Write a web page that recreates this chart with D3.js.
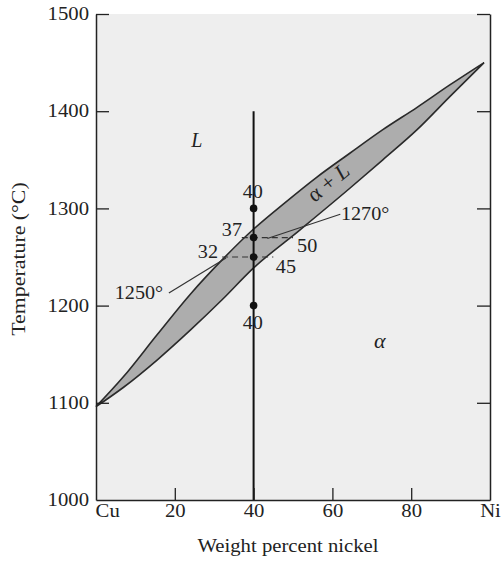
<!DOCTYPE html>
<html>
<head>
<meta charset="utf-8">
<script src="https://cdn.jsdelivr.net/npm/d3@7"></script>
<style>
  body { margin: 0; background: #fff; }
  text { font-family: "Liberation Serif", "Times New Roman", serif; fill: #222; }
</style>
</head>
<body>
<div id="chart"></div>
<script>
// wt% Ni vs temperature
var liquidusNi = [0, 7, 15.5, 24, 32, 39.8, 48, 56, 64.5, 72.8, 81.5, 89.8, 98.5];
var liquidusT  = [1096, 1127, 1170, 1212, 1247, 1278, 1306, 1332, 1357, 1381, 1404, 1427, 1450];
var solidusNi  = [0, 7, 15.5, 24, 32, 39.8, 51.8, 64.5, 72.8, 81.5, 89.8, 98.5];
var solidusT   = [1096, 1116, 1144, 1175, 1206, 1238, 1278, 1321, 1350, 1381, 1415, 1450];

// alloy composition line and the points on it
var alloyNi = 40;
var alloyTop = 1400;
var pointT = [1300, 1270, 1250, 1200];

// tie lines: temperature, liquid comp, solid comp
var tieT = [1270, 1250];
var tieLiquid = [37, 32];
var tieSolid = [50, 45];

var xTicks = [0, 20, 40, 60, 80, 100];
var xTickNames = ["Cu", "20", "40", "60", "80", "Ni"];
var yTicks = [1000, 1100, 1200, 1300, 1400, 1500];

// annotation texts and where they sit (wt% Ni, °C)
var noteText = ["40", "37", "32", "50", "45", "40", "1250°", "1270°"];
var noteNi   = [39.8, 34.5, 28.4, 53.6, 48.2, 39.8, 10.9, 68.3];
var noteT    = [1317, 1278, 1255, 1262, 1240, 1182, 1213, 1295];

var width = 502, height = 564;
var margin = {top: 14, right: 12, bottom: 64, left: 96};

var x = d3.scaleLinear().domain([0, 100]).range([margin.left, width - margin.right]);
var y = d3.scaleLinear().domain([1000, 1500]).range([height - margin.bottom, margin.top]);

var svg = d3.select("#chart").append("svg")
    .attr("width", width)
    .attr("height", height);

// the printed font is wider than Liberation Serif, stretch text a bit
function widen(sel, k) {
    sel.each(function () {
        var w = this.getComputedTextLength();
        if (w > 0) {
            d3.select(this).attr("textLength", w * k).attr("lengthAdjust", "spacingAndGlyphs");
        }
    });
}

// light plot background
svg.append("rect")
    .attr("x", x(0)).attr("y", y(1500))
    .attr("width", x(100) - x(0)).attr("height", y(1000) - y(1500))
    .attr("fill", "#eeeeee");

// two-phase lens
var line = d3.line()
    .x(function (d) { return x(d[0]); })
    .y(function (d) { return y(d[1]); })
    .curve(d3.curveMonotoneX);
var liq = d3.zip(liquidusNi, liquidusT);
var sol = d3.zip(solidusNi, solidusT);
var lens = line(liq) + "L" + line(sol.slice().reverse()).slice(1) + "Z";
svg.append("path")
    .attr("d", lens)
    .attr("fill", "#adadad")
    .attr("stroke", "#2a2a2a")
    .attr("stroke-width", 1.6)
    .attr("stroke-linejoin", "miter");

// tie lines
svg.selectAll(".tie")
    .data(tieT)
    .enter().append("line")
    .attr("class", "tie")
    .attr("x1", function (d, i) { return x(tieLiquid[i]); })
    .attr("x2", function (d, i) { return x(tieSolid[i]); })
    .attr("y1", function (d) { return y(d); })
    .attr("y2", function (d) { return y(d); })
    .attr("stroke", "#333")
    .attr("stroke-width", 1.2)
    .attr("stroke-dasharray", "6,4");

// leader lines for the temperature labels
var leaders = [[18.5, 1213, 33, 1249], [62, 1294, 43.5, 1269]];
svg.selectAll(".leader")
    .data(leaders)
    .enter().append("line")
    .attr("class", "leader")
    .attr("x1", function (d) { return x(d[0]); })
    .attr("y1", function (d) { return y(d[1]); })
    .attr("x2", function (d) { return x(d[2]); })
    .attr("y2", function (d) { return y(d[3]); })
    .attr("stroke", "#333")
    .attr("stroke-width", 1.2);

// alloy line
svg.append("line")
    .attr("x1", x(alloyNi)).attr("x2", x(alloyNi))
    .attr("y1", y(alloyTop)).attr("y2", y(1000))
    .attr("stroke", "#111")
    .attr("stroke-width", 2);

svg.selectAll(".pt")
    .data(pointT)
    .enter().append("circle")
    .attr("class", "pt")
    .attr("cx", x(alloyNi))
    .attr("cy", function (d) { return y(d); })
    .attr("r", 3.8)
    .attr("fill", "#111");

// axes, ticks pointing inward
var xAxis = d3.axisBottom(x).tickValues(xTicks)
    .tickFormat(function (d, i) { return xTickNames[i]; })
    .tickSizeInner(-12).tickSizeOuter(0).tickPadding(4);
var yAxis = d3.axisLeft(y).tickValues(yTicks).tickFormat(d3.format("d"))
    .tickSizeInner(-13).tickSizeOuter(0).tickPadding(7);
var yAxisR = d3.axisRight(y).tickValues(yTicks)
    .tickSizeInner(-13).tickSizeOuter(0).tickFormat("");

var gx = svg.append("g").attr("transform", "translate(0," + y(1000) + ")").call(xAxis);
var gy = svg.append("g").attr("transform", "translate(" + x(0) + ",0)").call(yAxis);
var gr = svg.append("g").attr("transform", "translate(" + x(100) + ",0)").call(yAxisR);

[gx, gy, gr].forEach(function (g) {
    g.select(".domain").attr("stroke", "#222").attr("stroke-width", 1.5);
    g.selectAll(".tick line").attr("stroke", "#222").attr("stroke-width", 1.3);
    g.selectAll(".tick text")
        .attr("font-family", "Liberation Serif, serif")
        .attr("font-size", 18)
        .attr("fill", "#222");
});
gx.selectAll(".tick").filter(function (d) { return d === 0 || d === 100; }).select("line").remove();
gy.selectAll(".tick").filter(function (d) { return d === 1000; }).select("line").remove();
gr.selectAll(".tick").filter(function (d) { return d === 1000; }).select("line").remove();
gx.selectAll(".tick text").filter(function (d) { return d === 0; })
    .attr("text-anchor", "start").attr("dx", "-0.05em");
widen(gx.selectAll(".tick text"), 1.15);
widen(gy.selectAll(".tick text"), 1.15);

// number labels
var notes = svg.selectAll(".note")
    .data(noteText)
    .enter().append("text")
    .attr("class", "note")
    .attr("x", function (d, i) { return x(noteNi[i]); })
    .attr("y", function (d, i) { return y(noteT[i]); })
    .attr("dy", "0.35em")
    .attr("text-anchor", "middle")
    .attr("font-size", 18)
    .text(function (d) { return d; });
widen(notes, 1.12);

// phase labels
svg.append("text")
    .attr("x", x(25.6)).attr("y", y(1370)).attr("dy", "0.35em")
    .attr("text-anchor", "middle")
    .attr("font-size", 20).attr("font-style", "italic")
    .text("L");
svg.append("text")
    .attr("x", x(72)).attr("y", y(1163)).attr("dy", "0.3em")
    .attr("text-anchor", "middle")
    .attr("font-size", 22).attr("font-style", "italic")
    .text("α");
svg.append("text")
    .attr("transform", "translate(" + x(58.9) + "," + y(1327) + ") rotate(-39)")
    .attr("dy", "0.35em")
    .attr("text-anchor", "middle")
    .attr("font-size", 22)
    .html('α + <tspan font-style="italic">L</tspan>');

// axis titles
var xt = svg.append("text")
    .attr("x", 288).attr("y", 552)
    .attr("text-anchor", "middle")
    .attr("font-size", 18)
    .text("Weight percent nickel");
widen(xt, 1.15);
var yt = svg.append("text")
    .attr("transform", "translate(25," + 259 + ") rotate(-90)")
    .attr("text-anchor", "middle")
    .attr("font-size", 19)
    .text("Temperature (°C)");
widen(yt, 1.15);
</script>
</body>
</html>
